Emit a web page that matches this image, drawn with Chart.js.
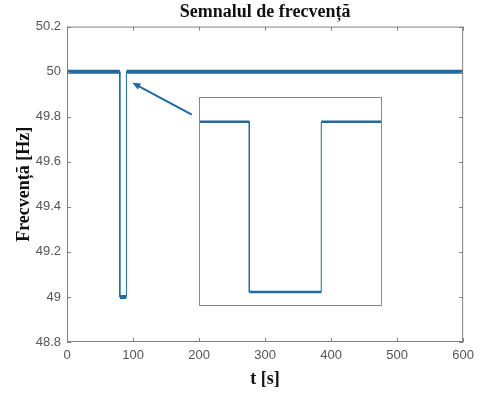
<!DOCTYPE html>
<html>
<head>
<meta charset="utf-8">
<script src="https://cdn.jsdelivr.net/npm/chart.js@4/dist/chart.umd.min.js"></script>
<style>
  body { margin: 0; background: #fff; }
  #wrap { position: relative; width: 480px; height: 394px; }
  #grafic { position: absolute; left: 0; top: 0; }
  #zoomBox {
    position: absolute; left: 199px; top: 97px;
    width: 181px; height: 207px;
    border: 1px solid #8a8a8a; background: #fff;
  }
</style>
</head>
<body>
<div id="wrap">
  <canvas id="grafic" width="480" height="394"></canvas>
  <div id="zoomBox"><canvas id="detaliu" width="181" height="207"></canvas></div>
</div>
<script>
// semnalul: 50 Hz, cu o cadere la 49 Hz intre 80 s si 90 s
const timp = [0, 80, 80, 90, 90, 600];
const frecventa = [50, 50, 49, 49, 50, 50];

// etichete axe
const xTicks = [0, 100, 200, 300, 400, 500, 600];
const yTicks = [48.8, 49, 49.2, 49.4, 49.6, 49.8, 50, 50.2];

// zona marita din fereastra mica
const zoomX = [73.15, 98.3];
const zoomY = [48.924, 50.139];

// sageata: [coada, varf] in (t, Hz)
const sageataT = [189, 99];
const sageataF = [49.809, 49.951];

const albastru = "#1f6aa0";
const gri = "#808080";

const puncte = timp.map((t, i) => ({ x: t, y: frecventa[i] }));

// bucatile orizontale sunt groase (zgomot), cele verticale subtiri
function grosime(gros, subtire) {
  return ctx => ctx.p0.parsed.y === ctx.p1.parsed.y ? gros : subtire;
}

// cadrul si liniutele spre interior, ca in MATLAB
const cadru = {
  id: "cadru",
  afterDraw(chart) {
    const { ctx, chartArea: a, scales } = chart;
    ctx.save();
    ctx.strokeStyle = gri;
    ctx.lineWidth = 1;
    ctx.strokeRect(a.left + 0.5, a.top + 0.5, a.right - a.left - 1, a.bottom - a.top - 1);
    ctx.beginPath();
    xTicks.forEach(v => {
      const x = Math.round(scales.x.getPixelForValue(v)) + 0.5;
      ctx.moveTo(x, a.bottom); ctx.lineTo(x, a.bottom - 4);
      ctx.moveTo(x, a.top); ctx.lineTo(x, a.top + 4);
    });
    yTicks.forEach(v => {
      const y = Math.round(scales.y.getPixelForValue(v)) + 0.5;
      ctx.moveTo(a.left, y); ctx.lineTo(a.left + 4, y);
      ctx.moveTo(a.right, y); ctx.lineTo(a.right - 4, y);
    });
    ctx.stroke();
    ctx.restore();
  }
};

// sageata de la fereastra mica spre cadere
const sageata = {
  id: "sageata",
  afterDatasetsDraw(chart) {
    const { ctx, scales } = chart;
    const x0 = scales.x.getPixelForValue(sageataT[0]);
    const y0 = scales.y.getPixelForValue(sageataF[0]);
    const x1 = scales.x.getPixelForValue(sageataT[1]);
    const y1 = scales.y.getPixelForValue(sageataF[1]);
    const ung = Math.atan2(y1 - y0, x1 - x0);
    ctx.save();
    ctx.strokeStyle = albastru;
    ctx.fillStyle = albastru;
    ctx.lineWidth = 2;
    ctx.beginPath();
    ctx.moveTo(x0, y0);
    ctx.lineTo(x1 - 6 * Math.cos(ung), y1 - 6 * Math.sin(ung));
    ctx.stroke();
    ctx.beginPath();
    ctx.moveTo(x1, y1);
    ctx.lineTo(x1 - 8 * Math.cos(ung) + 3.5 * Math.sin(ung), y1 - 8 * Math.sin(ung) - 3.5 * Math.cos(ung));
    ctx.lineTo(x1 - 8 * Math.cos(ung) - 3.5 * Math.sin(ung), y1 - 8 * Math.sin(ung) + 3.5 * Math.cos(ung));
    ctx.closePath();
    ctx.fill();
    ctx.restore();
  }
};

const fontTitlu = { family: "'Liberation Serif', 'Times New Roman', serif", size: 18, weight: "bold" };
const fontTick = { family: "'Liberation Sans', Arial, sans-serif", size: 13 };

// GRAFIC PRINCIPAL
new Chart(document.getElementById("grafic"), {
  type: "line",
  data: {
    datasets: [{
      data: puncte,
      borderColor: albastru,
      borderWidth: 1,
      pointRadius: 0,
      segment: { borderWidth: grosime(4, 1) }
    }]
  },
  options: {
    responsive: false,
    animation: false,
    layout: { padding: { left: 0, right: 13, top: 0, bottom: 0 } },
    plugins: {
      legend: { display: false },
      tooltip: { enabled: false },
      title: {
        display: true,
        fullSize: false,
        text: "Semnalul de frecvență",
        color: "#111",
        font: fontTitlu,
        padding: { top: 2, bottom: 3 }
      }
    },
    scales: {
      x: {
        type: "linear",
        min: 0, max: 600,
        afterBuildTicks: s => { s.ticks = xTicks.map(v => ({ value: v })); },
        afterFit: s => { s.height = 52; },
        grid: { display: false, drawTicks: false },
        border: { display: false },
        ticks: { color: "#555", font: fontTick, padding: 6, maxRotation: 0 },
        title: { display: true, text: "t [s]", color: "#111", font: fontTitlu, padding: 4 }
      },
      y: {
        min: 48.8, max: 50.2,
        afterBuildTicks: s => { s.ticks = yTicks.map(v => ({ value: v })); },
        afterFit: s => { s.width = 67; },
        grid: { display: false, drawTicks: false },
        border: { display: false },
        ticks: { color: "#555", font: fontTick, padding: 6, callback: v => String(v) },
        title: { display: true, text: "Frecvență [Hz]", color: "#111", font: fontTitlu, padding: 14 }
      }
    }
  },
  plugins: [cadru, sageata]
});

// FEREASTRA MARITA
new Chart(document.getElementById("detaliu"), {
  type: "line",
  data: {
    datasets: [{
      data: puncte,
      borderColor: albastru,
      borderWidth: 1,
      pointRadius: 0,
      segment: { borderWidth: grosime(2.5, 1) }
    }]
  },
  options: {
    responsive: false,
    animation: false,
    plugins: { legend: { display: false }, tooltip: { enabled: false } },
    scales: {
      x: { type: "linear", display: false, min: zoomX[0], max: zoomX[1] },
      y: { display: false, min: zoomY[0], max: zoomY[1] }
    }
  }
});
</script>
</body>
</html>
